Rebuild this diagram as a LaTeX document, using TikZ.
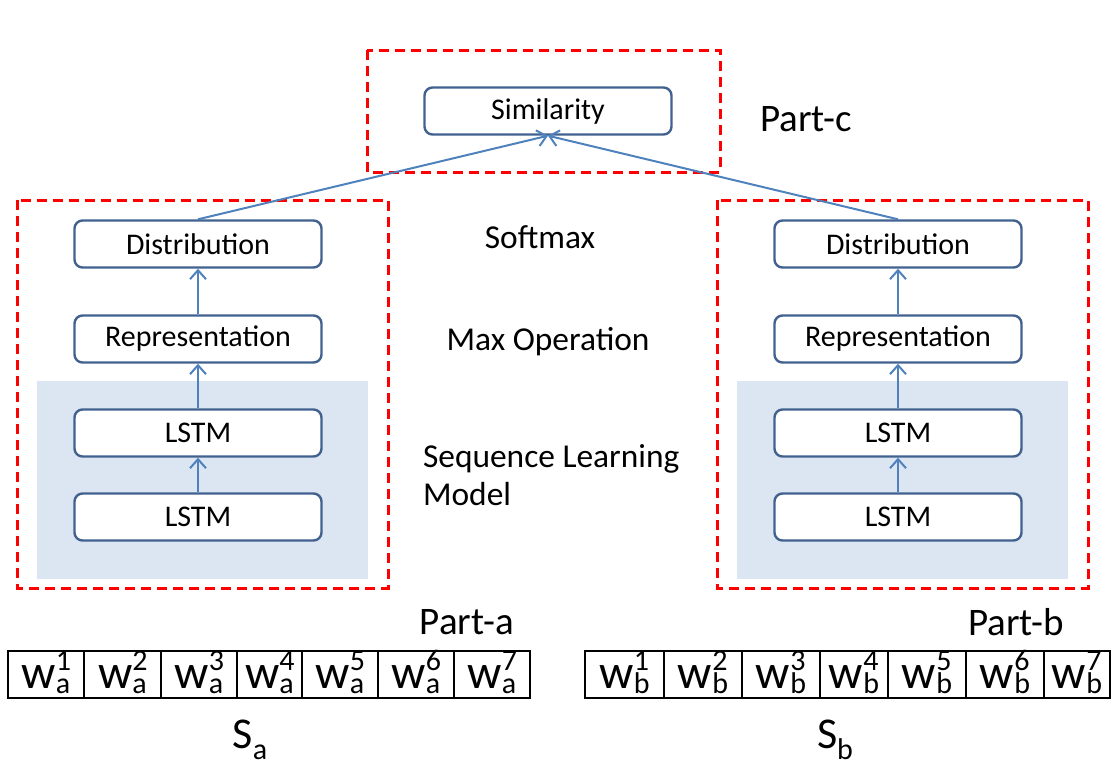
\documentclass[tikz,border=0pt]{standalone}
\usepackage{fontspec}
\setmainfont{Carlito}
\usetikzlibrary{arrows.meta}

\definecolor{boxline}{HTML}{41618F}
\definecolor{arrowblue}{HTML}{4F81BD}
\definecolor{seqfill}{HTML}{DCE6F2}

% word with stacked sub- and superscript
\newcommand{\wrd}[2]{w\rlap{\raisebox{0.36em}{\fontsize{15}{15}\selectfont #2}}\raisebox{-0.12em}{\fontsize{15}{15}\selectfont #1}}

\tikzset{
  block/.style={draw=boxline, line width=1.2pt, rounded corners=4pt, fill=white,
    minimum width=123.5pt, minimum height=23.5pt, font=\fontsize{15}{17}\selectfont},
  partbox/.style={draw=red, line width=1.5pt, dash pattern=on 5pt off 3pt},
  flow/.style={draw=arrowblue, line width=1pt, -{Straight Barb[length=4.5pt,width=8pt]}},
  midlabel/.style={font=\fontsize{16.7}{19}\selectfont},
  partlabel/.style={font=\fontsize{19.5}{22}\selectfont},
  cell/.style={inner sep=0pt, anchor=base, font=\fontsize{24}{26}\selectfont}
}

\begin{document}
\begin{tikzpicture}[x=0.5pt,y=-0.5pt]

\useasboundingbox (0,0) rectangle (1115,773);

% sequence learning backgrounds
\fill[seqfill] (37,381) rectangle (368,579);
\fill[seqfill] (737,381) rectangle (1068,579);

% part boxes
\draw[partbox] (367,50) rectangle (720,172);
\draw[partbox] (17,200) rectangle (388,588);
\draw[partbox] (717,200) rectangle (1088,588);

\node[block] (sim) at (548,111) {Similarity};

% part-a
\node[block] (dista) at (198,244) {Distribution};
\node[block] (repa) at (198,339) {Representation};
\node[block] (lstma2) at (198,433) {LSTM};
\node[block] (lstma1) at (198,517) {LSTM};

% part-b
\node[block] (distb) at (898,244) {Distribution};
\node[block] (repb) at (898,339) {Representation};
\node[block] (lstmb2) at (898,433) {LSTM};
\node[block] (lstmb1) at (898,517) {LSTM};

\draw[flow] (lstma1) -- (lstma2);
\draw[flow] (lstma2) -- (repa);
\draw[flow] (repa) -- (dista);
\draw[flow] (lstmb1) -- (lstmb2);
\draw[flow] (lstmb2) -- (repb);
\draw[flow] (repb) -- (distb);
\draw[flow] (dista.north) -- (sim.south);
\draw[flow] (distb.north) -- (sim.south);

% layer names
\node[midlabel] (softlbl) at (540,237) {Softmax};
\node[midlabel] (maxlbl) at (548,342) {Max Operation};
\node[midlabel, align=left, anchor=west] (seqlbl) at (416,475) {Sequence Learning\\Model};

\node[partlabel] (partc) at (806,119) {Part-c};
\node[partlabel] (parta) at (467,622) {Part-a};
\node[partlabel] (partb) at (1016,622) {Part-b};

% sentence a
\foreach \i/\xa/\xb in {1/8/84, 2/84/161, 3/161/237, 4/237/302, 5/302/378, 6/378/454, 7/454/530}{
  \draw[line width=0.9pt] (\xa,651) rectangle (\xb,698);
  \node[cell] (wa\i) at ({(\xa+\xb)/2},688) {\wrd{a}{\i}};
}
% sentence b
\foreach \i/\xa/\xb in {1/585/664, 2/664/742, 3/742/820, 4/820/888, 5/888/966, 6/966/1044, 7/1044/1110}{
  \draw[line width=0.9pt] (\xa,651) rectangle (\xb,698);
  \node[cell] (wb\i) at ({(\xa+\xb)/2},688) {\wrd{b}{\i}};
}

\node[font=\fontsize{22}{24}\selectfont] (sa) at (250,740) {S\raisebox{-0.25em}{\fontsize{15}{15}\selectfont a}};
\node[font=\fontsize{22}{24}\selectfont] (sb) at (835,740) {S\raisebox{-0.25em}{\fontsize{15}{15}\selectfont b}};

\end{tikzpicture}
\end{document}
